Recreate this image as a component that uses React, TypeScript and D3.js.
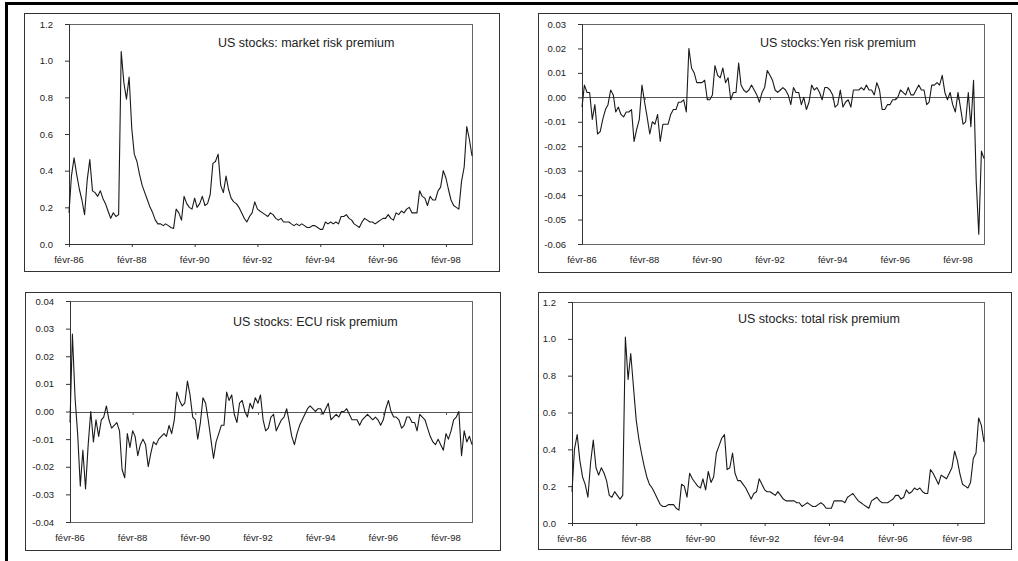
import { useEffect, useRef } from "react";
import * as d3 from "d3";

// monthly observations, Feb 1986 .. Dec 1998
const START = new Date(1986, 1, 1);

const tickYears = [1986, 1988, 1990, 1992, 1994, 1996, 1998];
const tickLabels = ["févr-86", "févr-88", "févr-90", "févr-92", "févr-94", "févr-96", "févr-98"];

const marketPremium = [
  0.17, 0.37, 0.47, 0.38, 0.30, 0.24, 0.16, 0.35, 0.46, 0.29,
  0.28, 0.26, 0.29, 0.25, 0.22, 0.18, 0.14, 0.17, 0.15, 0.16,
  1.05, 0.88, 0.79, 0.91, 0.63, 0.49, 0.45, 0.38, 0.32, 0.28,
  0.24, 0.20, 0.17, 0.13, 0.11, 0.11, 0.10, 0.11, 0.10, 0.09,
  0.085, 0.19, 0.17, 0.13, 0.26, 0.22, 0.20, 0.19, 0.25, 0.20,
  0.22, 0.26, 0.21, 0.22, 0.27, 0.44, 0.45, 0.49, 0.32, 0.28,
  0.37, 0.30, 0.25, 0.23, 0.22, 0.20, 0.17, 0.14, 0.12, 0.15,
  0.17, 0.23, 0.19, 0.18, 0.17, 0.16, 0.15, 0.17, 0.16, 0.14,
  0.13, 0.14, 0.12, 0.12, 0.12, 0.11, 0.10, 0.11, 0.10, 0.11,
  0.10, 0.09, 0.09, 0.10, 0.10, 0.09, 0.08, 0.08, 0.12, 0.11,
  0.12, 0.11, 0.12, 0.11, 0.15, 0.15, 0.16, 0.14, 0.13, 0.11,
  0.10, 0.09, 0.12, 0.14, 0.13, 0.12, 0.12, 0.11, 0.12, 0.13,
  0.14, 0.14, 0.16, 0.14, 0.13, 0.17, 0.16, 0.18, 0.17, 0.19,
  0.20, 0.17, 0.17, 0.17, 0.29, 0.26, 0.25, 0.21, 0.26, 0.24,
  0.24, 0.29, 0.31, 0.40, 0.36, 0.30, 0.24, 0.21, 0.20, 0.19,
  0.34, 0.42, 0.64, 0.57, 0.48,
];

const yenPremium = [
  -0.004, 0.005, 0.002, 0.002, -0.009, -0.003, -0.015, -0.014, -0.009, -0.005,
  -0.003, 0.003, 0.001, -0.006, -0.004, -0.007, -0.008, -0.006, -0.006, -0.005,
  -0.018, -0.013, -0.009, 0.005, -0.002, -0.008, -0.015, -0.010, -0.011, -0.007,
  -0.018, -0.011, -0.011, -0.011, -0.007, -0.005, -0.005, -0.002, -0.002, -0.001,
  -0.006, 0.020, 0.012, 0.010, 0.006, 0.006, 0.006, 0.007, -0.001, -0.001,
  0.001, 0.013, 0.009, 0.008, 0.012, 0.006, 0.008, -0.001, 0.002, 0.002,
  0.014, 0.005, 0.003, 0.002, 0.003, 0.005, 0.003, 0.001, -0.002, 0.002,
  0.004, 0.011, 0.009, 0.007, 0.003, 0.002, 0.003, 0.004, 0.003, 0.001,
  -0.003, 0.004, 0.002, 0.002, -0.003, 0.000, -0.005, -0.002, 0.005, 0.003,
  0.004, 0.002, -0.001, 0.004, 0.004, 0.003, 0.001, -0.004, -0.003, 0.003,
  -0.004, -0.002, -0.001, -0.004, 0.003, 0.003, 0.003, 0.004, 0.003, 0.005,
  0.003, 0.003, 0.001, 0.006, 0.003, -0.005, -0.005, -0.003, -0.003, -0.001,
  -0.001, 0.000, 0.003, 0.002, 0.001, 0.004, 0.001, 0.001, 0.003, 0.005,
  0.003, 0.003, -0.003, -0.002, 0.005, 0.005, 0.006, 0.005, 0.009, 0.002,
  -0.001, 0.002, -0.003, -0.006, 0.002, -0.004, -0.011, -0.010, 0.002, -0.012,
  0.007, -0.034, -0.056, -0.022, -0.025,
];

const ecuPremium = [
  -0.004, 0.028, 0.005, -0.008, -0.027, -0.014, -0.028, -0.012, 0.000, -0.011,
  -0.003, -0.009, -0.003, -0.002, 0.002, -0.003, -0.006, -0.005, -0.004, -0.007,
  -0.021, -0.024, -0.008, -0.013, -0.007, -0.009, -0.016, -0.012, -0.010, -0.012,
  -0.020, -0.015, -0.011, -0.012, -0.010, -0.009, -0.008, -0.009, -0.005, -0.008,
  -0.003, 0.007, 0.004, 0.002, 0.003, 0.011, 0.006, -0.002, -0.003, -0.010,
  -0.004, 0.005, 0.003, -0.003, -0.010, -0.017, -0.011, -0.008, -0.005, -0.005,
  0.007, 0.004, 0.006, -0.001, -0.004, 0.003, 0.004, 0.000, -0.002, 0.003,
  0.001, 0.005, 0.003, 0.006, -0.003, -0.007, -0.006, -0.002, -0.001, -0.007,
  -0.005, -0.003, -0.002, 0.001, -0.004, -0.009, -0.012, -0.008, -0.005, -0.003,
  -0.001, 0.001, 0.002, 0.001, 0.000, 0.001, 0.001, -0.001, 0.001, 0.003,
  -0.003, -0.002, -0.001, -0.002, 0.000, 0.000, 0.001, -0.001, -0.003, -0.003,
  -0.003, -0.005, -0.003, -0.002, -0.001, -0.002, -0.003, -0.002, -0.003, -0.005,
  -0.003, 0.001, 0.004, 0.000, -0.002, -0.002, -0.003, -0.006, -0.005, -0.002,
  -0.002, -0.004, -0.004, -0.007, -0.001, -0.002, -0.003, -0.006, -0.009, -0.011,
  -0.012, -0.010, -0.012, -0.014, -0.008, -0.010, -0.007, -0.003, -0.002, 0.000,
  -0.016, -0.007, -0.011, -0.009, -0.012,
];

const totalPremium = [
  0.17, 0.40, 0.48, 0.34, 0.25, 0.21, 0.14, 0.33, 0.45, 0.30,
  0.26, 0.30, 0.27, 0.23, 0.15, 0.14, 0.17, 0.15, 0.13, 0.15,
  1.01, 0.78, 0.92, 0.74, 0.56, 0.46, 0.38, 0.31, 0.25, 0.21,
  0.19, 0.16, 0.13, 0.10, 0.09, 0.09, 0.10, 0.10, 0.10, 0.08,
  0.07, 0.21, 0.20, 0.14, 0.27, 0.24, 0.22, 0.20, 0.19, 0.24,
  0.18, 0.28, 0.22, 0.25, 0.38, 0.42, 0.46, 0.48, 0.29, 0.30,
  0.38, 0.27, 0.23, 0.23, 0.21, 0.19, 0.16, 0.13, 0.16, 0.17,
  0.24, 0.21, 0.18, 0.17, 0.17, 0.16, 0.15, 0.17, 0.15, 0.13,
  0.12, 0.12, 0.12, 0.12, 0.11, 0.11, 0.09, 0.10, 0.11, 0.10,
  0.09, 0.09, 0.10, 0.11, 0.10, 0.08, 0.08, 0.08, 0.12, 0.12,
  0.12, 0.12, 0.11, 0.14, 0.15, 0.16, 0.14, 0.12, 0.11, 0.10,
  0.09, 0.08, 0.12, 0.13, 0.14, 0.12, 0.11, 0.11, 0.11, 0.12,
  0.13, 0.15, 0.15, 0.13, 0.14, 0.18, 0.16, 0.17, 0.19, 0.18,
  0.19, 0.17, 0.16, 0.16, 0.29, 0.27, 0.24, 0.21, 0.26, 0.25,
  0.24, 0.27, 0.30, 0.39, 0.34, 0.27, 0.21, 0.20, 0.19, 0.22,
  0.35, 0.38, 0.57, 0.53, 0.44,
];

const marketTicks = [0, 0.2, 0.4, 0.6, 0.8, 1.0, 1.2];
const yenTicks = [-0.06, -0.05, -0.04, -0.03, -0.02, -0.01, 0, 0.01, 0.02, 0.03];
const ecuTicks = [-0.04, -0.03, -0.02, -0.01, 0, 0.01, 0.02, 0.03, 0.04];
const totalTicks = [0, 0.2, 0.4, 0.6, 0.8, 1.0, 1.2];

const FONT = "Arial, 'Liberation Sans', sans-serif";
const INK = "#222";
const locale = d3.formatLocale({ decimal: ".", thousands: ",", grouping: [3], currency: ["", ""], minus: "-" });

interface Panel {
  title: string;
  values: number[];
  ticks: number[];
  decimals: number;
  zeroAxis: boolean;
  box: [number, number, number, number]; // x0 y0 x1 y1
  plot: [number, number, number, number]; // left top right bottom
  titlePos: [number, number];
}

const panels: Panel[] = [
  {
    title: "US stocks: market risk premium",
    values: marketPremium,
    ticks: marketTicks,
    decimals: 1,
    zeroAxis: false,
    box: [24, 13, 499, 271],
    plot: [69, 24, 472, 244],
    titlePos: [218, 47],
  },
  {
    title: "US stocks:Yen risk premium",
    values: yenPremium,
    ticks: yenTicks,
    decimals: 2,
    zeroAxis: true,
    box: [538, 13, 1011, 272],
    plot: [582, 24, 984, 244],
    titlePos: [760, 47],
  },
  {
    title: "US stocks: ECU risk premium",
    values: ecuPremium,
    ticks: ecuTicks,
    decimals: 2,
    zeroAxis: true,
    box: [25, 292, 500, 550],
    plot: [70, 301, 472, 522],
    titlePos: [233, 326],
  },
  {
    title: "US stocks: total risk premium",
    values: totalPremium,
    ticks: totalTicks,
    decimals: 1,
    zeroAxis: false,
    box: [538, 292, 1011, 549],
    plot: [572, 302, 984, 523],
    titlePos: [738, 323],
  },
];

function drawPanel(
  svg: d3.Selection<SVGSVGElement, unknown, null, undefined>,
  p: Panel,
) {
  const [l, t, r, b] = p.plot;
  const dates = p.values.map((_, i) => d3.timeMonth.offset(START, i));
  const x = d3
    .scaleTime()
    .domain([dates[0], dates[dates.length - 1]])
    .range([l, r]);
  const y = d3
    .scaleLinear()
    .domain(d3.extent(p.ticks) as [number, number])
    .range([b, t]);
  const fmt = locale.format(`.${p.decimals}f`);

  const g = svg.append("g");

  g.append("rect")
    .attr("x", p.box[0] + 0.5)
    .attr("y", p.box[1] + 0.5)
    .attr("width", p.box[2] - p.box[0])
    .attr("height", p.box[3] - p.box[1])
    .attr("fill", "#fff")
    .attr("stroke", "#333");

  g.append("rect")
    .attr("x", l + 0.5)
    .attr("y", t + 0.5)
    .attr("width", r - l)
    .attr("height", b - t)
    .attr("fill", "none")
    .attr("stroke", "#666");

  const yAxis = g
    .append("g")
    .attr("transform", `translate(${l},0)`)
    .call(d3.axisLeft(y).tickValues(p.ticks).tickSize(4).tickPadding(12).tickFormat((d) => fmt(d as number)));
  yAxis.selectAll("line,path").attr("stroke", "#333");
  yAxis.selectAll("text").attr("fill", INK).attr("font-family", FONT).attr("font-size", 9.5);

  const tickDates = tickYears.map((yr) => new Date(yr, 1, 1));
  const axisY = p.zeroAxis ? Math.round(y(0)) : b;
  const xAxis = g
    .append("g")
    .attr("transform", `translate(0,${axisY})`)
    .call(d3.axisBottom(x).tickValues(tickDates).tickSize(3).tickSizeOuter(0).tickFormat(() => ""));
  xAxis.selectAll("line,path").attr("stroke", p.zeroAxis ? "#555" : "#333");

  g.append("g")
    .selectAll("text")
    .data(tickDates)
    .join("text")
    .attr("x", (d) => x(d))
    .attr("y", b + 19)
    .attr("text-anchor", "middle")
    .attr("fill", INK)
    .attr("font-family", FONT)
    .attr("font-size", 9.5)
    .text((_, i) => tickLabels[i]);

  const line = d3
    .line<number>()
    .x((_, i) => x(dates[i]))
    .y((d) => y(d));

  g.append("path")
    .datum(p.values)
    .attr("fill", "none")
    .attr("stroke", "#1a1a1a")
    .attr("stroke-width", 1.1)
    .attr("stroke-linejoin", "round")
    .attr("d", line);

  g.append("text")
    .attr("x", p.titlePos[0])
    .attr("y", p.titlePos[1])
    .attr("fill", INK)
    .attr("font-family", FONT)
    .attr("font-size", 12.5)
    .text(p.title);
}

export default function App() {
  const svgRef = useRef<SVGSVGElement | null>(null);

  useEffect(() => {
    if (!svgRef.current) return;
    const svg = d3.select(svgRef.current);
    svg.selectAll("*").remove();

    svg
      .append("rect")
      .attr("width", 1018)
      .attr("height", 561)
      .attr("fill", "#fff");

    // heavy outer frame (top and left edges only are in view)
    svg
      .append("path")
      .attr("d", "M6.5,561 V3.5 H1018")
      .attr("fill", "none")
      .attr("stroke", "#000")
      .attr("stroke-width", 3);

    panels.forEach((p) => drawPanel(svg, p));
  }, []);

  return (
    <div style={{ position: "fixed", left: 0, top: 0 }}>
      <svg ref={svgRef} width={1018} height={561} style={{ display: "block" }} />
    </div>
  );
}
